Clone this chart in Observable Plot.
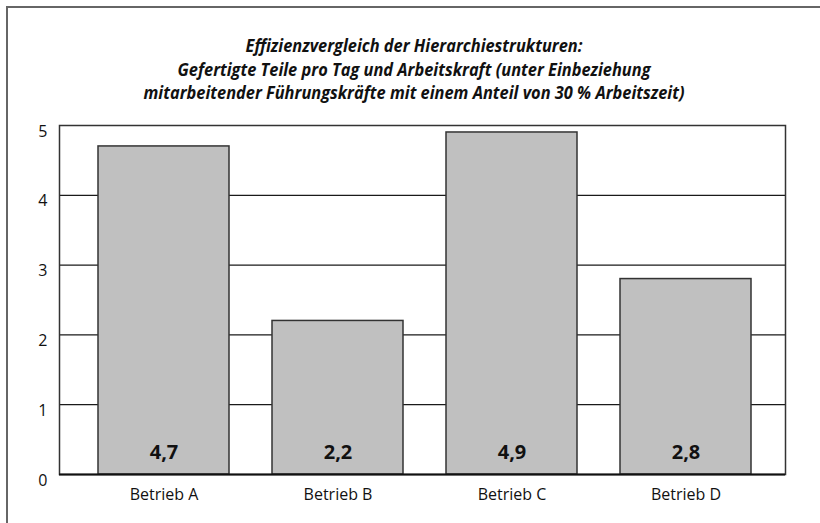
<!DOCTYPE html>
<html>
<head>
<meta charset="utf-8">
<script src="https://cdn.jsdelivr.net/npm/d3@7"></script>
<script src="https://cdn.jsdelivr.net/npm/@observablehq/plot@0.6"></script>
<style>
  html, body { margin: 0; padding: 0; background: #fff; }
  #wrap { position: relative; width: 820px; height: 523px; overflow: hidden; background: #fff; }
  #border { position: absolute; left: 6px; top: 6px; width: 830px; height: 530px;
            border-top: 2px solid #666; border-left: 2px solid #666; box-sizing: border-box; }
  #title { position: absolute; left: 0; top: 34px; width: 828px; text-align: center;
           font-family: "Open Sans", "Noto Sans", sans-serif;
           font-weight: bold; font-style: italic; font-size: 18px;
           line-height: 23.5px; color: #111; transform: scaleX(0.91); transform-origin: 414px 0; }
  #chart { position: absolute; left: 0; top: 0; }
</style>
</head>
<body>
<div id="wrap">
  <div id="border"></div>
  <div id="chart"></div>
  <div id="title"></div>
</div>
<script>
const titleLines = [
  "Effizienzvergleich der Hierarchiestrukturen:",
  "Gefertigte Teile pro Tag und Arbeitskraft (unter Einbeziehung",
  "mitarbeitender Führungskräfte mit einem Anteil von 30 % Arbeitszeit)"
];
const categories = ["Betrieb A", "Betrieb B", "Betrieb C", "Betrieb D"];
const values = [4.7, 2.2, 4.9, 2.8];
const yTicks = [0, 1, 2, 3, 4, 5];
const gridValues = [1, 2, 3, 4];

document.getElementById("title").innerHTML = titleLines.map(t => `<div>${t}</div>`).join("");

const data = categories.map((c, i) => ({category: c, value: values[i], label: String(values[i]).replace(".", ",")}));

const chart = Plot.plot({
  width: 820,
  height: 523,
  marginLeft: 59,
  marginRight: 35,
  marginTop: 125,
  marginBottom: 49,
  style: {fontFamily: "'Open Sans', sans-serif", fontSize: "16px", color: "#111", background: "transparent"},
  x: {domain: categories, paddingInner: 0.25, paddingOuter: 0.203, align: 0.535, label: null},
  y: {domain: [0, 5], label: null},
  marks: [
    Plot.ruleY(gridValues, {stroke: "#1a1a1a", strokeWidth: 1.2}),
    Plot.frame({stroke: "#333", strokeWidth: 1.5}),
    Plot.barY(data, {x: "category", y: "value", fill: "#c0c0c0", stroke: "#333", strokeWidth: 1.5}),
    Plot.ruleY([0], {stroke: "#111", strokeWidth: 2}),
    Plot.text(data, {x: "category", y: 0, text: "label", dy: -22, lineAnchor: "middle",
      fontSize: 20, fontWeight: "bold", fill: "#111"}),
    Plot.axisY(yTicks, {tickSize: 0, tickPadding: 12, dy: 6, tickFormat: "d", fontSize: 16, fill: "#111", label: null}),
    Plot.axisX({tickSize: 0, tickPadding: 14, fontSize: 16, fill: "#111", label: null})
  ]
});
document.getElementById("chart").appendChild(chart);
</script>
</body>
</html>
